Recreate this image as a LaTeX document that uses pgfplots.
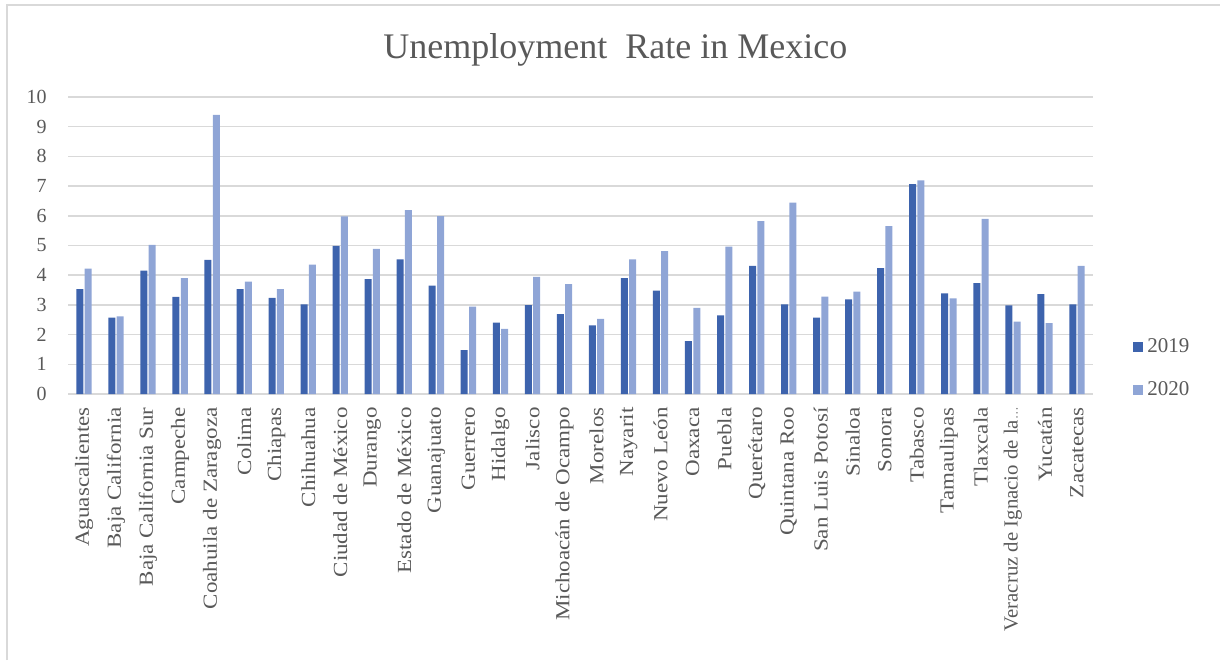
\documentclass[border=0pt]{standalone}
\usepackage{fontspec}
\setmainfont{Liberation Serif}
\newfontfamily\lblfont[FakeStretch=1.15]{Liberation Serif}
\newfontfamily\vfont[FakeStretch=1.04]{Liberation Serif}
\usepackage{pgfplots}
\usepackage{pgfplotstable}
\pgfplotsset{compat=1.18}
\definecolor{dark}{HTML}{3D63AD}
\definecolor{light}{HTML}{8FA5D6}
\definecolor{gridc}{HTML}{D9D9D9}
\definecolor{txt}{HTML}{595959}
\pgfplotstableread{
idx y2019 y2020
0 3.53 4.22
1 2.57 2.61
2 4.15 5.02
3 3.27 3.90
4 4.52 9.40
5 3.53 3.78
6 3.24 3.53
7 3.02 4.36
8 4.99 5.98
9 3.87 4.89
10 4.53 6.19
11 3.65 5.99
12 1.48 2.94
13 2.40 2.19
14 2.99 3.94
15 2.69 3.70
16 2.31 2.53
17 3.90 4.53
18 3.48 4.81
19 1.78 2.90
20 2.65 4.96
21 4.31 5.82
22 3.02 6.44
23 2.57 3.28
24 3.19 3.45
25 4.24 5.65
26 7.07 7.19
27 3.39 3.22
28 3.73 5.90
29 2.98 2.44
30 3.36 2.39
31 3.02 4.31
}\data
\begin{document}
\begin{tikzpicture}
\path[use as bounding box] (0,0) rectangle (610pt,330pt);
\draw[gridc, line width=0.75pt] (3.5pt,0) -- (3.5pt,327.5pt) -- (610pt,327.5pt);
\begin{axis}[
  at={(34pt,133pt)}, anchor=south west,
  width=512.5pt, height=148.5pt, scale only axis,
  ybar=0.65pt, bar width=3.5pt,
  xmin=-0.5, xmax=31.5, ymin=0, ymax=10,
  enlarge x limits=false, enlarge y limits=false,
  xtick={0,...,31},
  xticklabels={Aguascalientes, Baja California, Baja California Sur, Campeche, Coahuila de Zaragoza, Colima, Chiapas, Chihuahua, Ciudad de México, Durango, Estado de México, Guanajuato, Guerrero, Hidalgo, Jalisco, Michoacán de Ocampo, Morelos, Nayarit, Nuevo León, Oaxaca, Puebla, Querétaro, Quintana Roo, San Luis Potosí, Sinaloa, Sonora, Tabasco, Tamaulipas, Tlaxcala, {\vfont Veracruz de Ignacio de la\fontsize{6}{7}\selectfont…}, Yucatán, Zacatecas},
  ytick={0,1,...,10},
  major tick length=0pt,
  ymajorgrids, grid style={draw=gridc, line width=0.75pt},
  axis x line*=bottom, axis y line*=left,
  x axis line style={draw=gridc, line width=0.75pt, -},
  y axis line style={draw=none},
  /pgf/number format/assume math mode=true,
  xticklabel style={rotate=90, anchor=east, inner sep=0pt, font=\lblfont\fontsize{10}{12}\selectfont, text=txt},
  xticklabel shift=6.5pt,
  yticklabel style={anchor=east, inner sep=0pt, font=\fontsize{10}{12}\selectfont, text=txt},
  yticklabel shift=10.5pt,
  title={Unemployment\ \ Rate in Mexico},
  title style={at={(0.534,1.1175)}, anchor=center, font=\fontsize{18}{22}\selectfont, text=txt},
  legend style={at={(1.039,0.086)}, anchor=west, draw=none, fill=none, font=\fontsize{10.5}{12}\selectfont, text=txt, row sep=9pt, inner sep=0pt},
  legend cell align=left,
  legend image code/.code={\fill[#1] (0pt,-2.5pt) rectangle (5pt,2.5pt);},
]
\addplot[fill=dark, draw=none] table[x=idx, y=y2019] {\data};
\addplot[fill=light, draw=none] table[x=idx, y=y2020] {\data};
\legend{2019,2020}
\end{axis}
\end{tikzpicture}
\end{document}
